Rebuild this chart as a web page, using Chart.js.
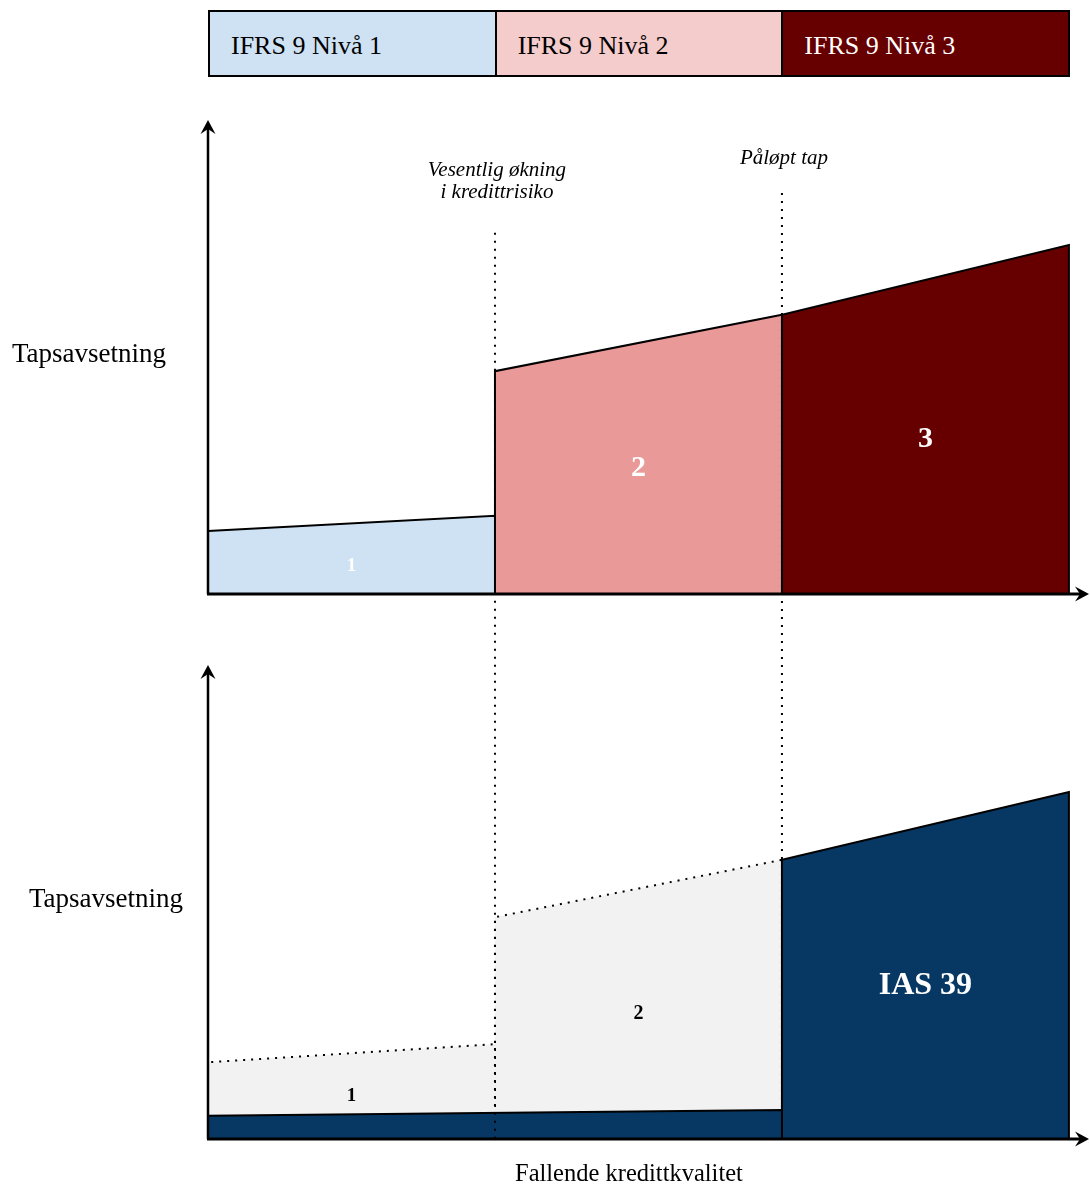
<!DOCTYPE html>
<html lang="no">
<head>
<meta charset="utf-8">
<title>IFRS 9 / IAS 39 tapsavsetning</title>
<script src="https://cdn.jsdelivr.net/npm/chart.js@4.4.1/dist/chart.umd.min.js"></script>
<style>
  body {
    margin: 0;
    background: #ffffff;
    overflow: hidden;
    font-family: "Liberation Serif", "DejaVu Serif", serif;
  }
  #wrap {
    position: relative;
    width: 1090px;
    height: 1184px;
  }
  #chart {
    position: absolute;
    left: 0;
    top: 0;
  }
  .stage-bar {
    position: absolute;
    top: 10px;
    height: 67px;
    display: flex;
    box-sizing: border-box;
    border: 2px solid #000000;
  }
  .stage-box {
    box-sizing: border-box;
    height: 100%;
    padding: 4px 0 0 21px;
    display: flex;
    align-items: center;
    font-size: 26px;
    color: #000000;
    border-right: 2px solid #000000;
  }
  .stage-box:last-child {
    border-right: none;
  }
  .axis-title {
    position: absolute;
    font-size: 27px;
    line-height: 27px;
    white-space: nowrap;
  }
  .note {
    position: absolute;
    font-style: italic;
    font-size: 21px;
    line-height: 22px;
    text-align: center;
    white-space: nowrap;
    transform: translateX(-50%);
  }
</style>
</head>
<body>
<div id="wrap">
  <canvas id="chart" width="1090" height="1184"></canvas>
  <div class="axis-title" style="left: 12px; top: 340px;">Tapsavsetning</div>
  <div class="axis-title" style="left: 29px; top: 885px;">Tapsavsetning</div>
  <div class="axis-title" style="left: 515px; top: 1161px; font-size: 24.5px; line-height: 24px;">Fallende kredittkvalitet</div>
</div>

<script>
// --------------------------------------
// Data
// --------------------------------------

const stageNames = ["IFRS 9 Nivå 1", "IFRS 9 Nivå 2", "IFRS 9 Nivå 3"];
const stageEdges = [0, 1, 2, 3];

// IFRS 9: allowance at the left / right edge of each stage
const ifrsLeft = [13.3, 47.0, 58.9];
const ifrsRight = [16.5, 58.9, 73.6];
const ifrsLabels = ["1", "2", "3"];

// IAS 39: dotted IFRS 9 outline for stage 1-2, solid block for stage 3
const iasLeft = [16.2, 46.8, 58.9];
const iasRight = [20.0, 58.9, 73.2];
const iasLabels = ["1", "2", "IAS 39"];

// incurred loss under IAS 39 for stage 1-2 (start, end)
const incurredBand = [4.9, 6.1];

// transition points between the stages
const thresholdX = [1, 2];
const thresholdTop = [76.2, 84.6];
const thresholdBottom = [0, 58.9];
const thresholdNotes = [["Vesentlig økning", "i kredittrisiko"], ["Påløpt tap"]];


// --------------------------------------
// Colours and label styles
// --------------------------------------

const stageColors = ["#CFE2F3", "#EA9999", "#660000"];
const headerColors = ["#CFE2F3", "#F4CCCC", "#660000"];
const headerText = ["#000000", "#000000", "#ffffff"];
const navy = "#073763";
const grey = "#F2F2F2";

const ifrsLabelStyle = [
  { size: 19, color: "#ffffff", y: 5.9 },
  { size: 30, color: "#ffffff", y: 26.6 },
  { size: 30, color: "#ffffff", y: 32.7 }
];
const iasLabelStyle = [
  { size: 19, color: "#000000", y: 9.1 },
  { size: 20, color: "#000000", y: 26.4 },
  { size: 32, color: "#ffffff", y: 32.3 }
];
const noteTops = [158, 146];


// --------------------------------------
// Datasets
// --------------------------------------

function block(i, left, right) {
  return [
    { x: stageEdges[i], y: 0 },
    { x: stageEdges[i], y: left },
    { x: stageEdges[i + 1], y: right },
    { x: stageEdges[i + 1], y: 0 }
  ];
}

const datasets = [];

// upper panel, IFRS 9
stageNames.forEach((_, i) => {
  datasets.push({
    data: block(i, ifrsLeft[i], ifrsRight[i]),
    yAxisID: "yTop",
    backgroundColor: stageColors[i],
    borderColor: "#000000",
    borderWidth: 2,
    fill: "origin",
    order: 5
  });
});

// lower panel, grey IFRS 9 outline behind the IAS 39 shapes
[0, 1].forEach((i) => {
  datasets.push({
    data: block(i, iasLeft[i], iasRight[i]),
    yAxisID: "yBot",
    backgroundColor: grey,
    borderColor: "#000000",
    borderWidth: 2,
    borderDash: [2, 6],
    fill: "origin",
    order: 4
  });
});

datasets.push({
  data: [
    { x: stageEdges[0], y: 0 },
    { x: stageEdges[0], y: incurredBand[0] },
    { x: stageEdges[2], y: incurredBand[1] },
    { x: stageEdges[2], y: 0 }
  ],
  yAxisID: "yBot",
  backgroundColor: navy,
  borderColor: "#000000",
  borderWidth: 2,
  fill: "origin",
  order: 2
});

datasets.push({
  data: block(2, iasLeft[2], iasRight[2]),
  yAxisID: "yBot",
  backgroundColor: navy,
  borderColor: "#000000",
  borderWidth: 2,
  fill: "origin",
  order: 2
});


// --------------------------------------
// Plugins: thresholds, labels, axes
// --------------------------------------

function arrowHead(ctx, tx, ty, dx, dy) {
  // dx/dy is the pointing direction
  const px = -dy;
  const py = dx;
  ctx.beginPath();
  ctx.moveTo(tx, ty);
  ctx.lineTo(tx - dx * 14 + px * 7.5, ty - dy * 14 + py * 7.5);
  ctx.lineTo(tx - dx * 9, ty - dy * 9);
  ctx.lineTo(tx - dx * 14 - px * 7.5, ty - dy * 14 - py * 7.5);
  ctx.closePath();
  ctx.fill();
}

const thresholdPlugin = {
  id: "thresholds",
  afterDatasetsDraw(chart) {
    const { ctx, scales } = chart;

    ctx.save();
    ctx.strokeStyle = "#000000";
    ctx.lineWidth = 2;
    ctx.setLineDash([2, 6]);

    thresholdX.forEach((value, i) => {
      const px = scales.x.getPixelForValue(value);
      ctx.beginPath();
      ctx.moveTo(px, scales.yTop.getPixelForValue(thresholdTop[i]));
      ctx.lineTo(px, scales.yBot.getPixelForValue(thresholdBottom[i]));
      ctx.stroke();
    });

    ctx.restore();
  }
};

const labelPlugin = {
  id: "stageLabels",
  afterDatasetsDraw(chart) {
    const { ctx, scales } = chart;

    const drawSet = (labels, styles, yScale) => {
      labels.forEach((text, i) => {
        const style = styles[i];
        ctx.font = `bold ${style.size}px "Liberation Serif", serif`;
        ctx.fillStyle = style.color;
        ctx.fillText(
          text,
          scales.x.getPixelForValue(stageEdges[i] + 0.5),
          yScale.getPixelForValue(style.y)
        );
      });
    };

    ctx.save();
    ctx.textAlign = "center";
    ctx.textBaseline = "middle";
    drawSet(ifrsLabels, ifrsLabelStyle, scales.yTop);
    drawSet(iasLabels, iasLabelStyle, scales.yBot);
    ctx.restore();
  }
};

const axesPlugin = {
  id: "panelAxes",
  afterDraw(chart) {
    const { ctx, scales } = chart;
    const x0 = scales.x.getPixelForValue(0);
    const xEnd = scales.x.right;

    ctx.save();
    ctx.strokeStyle = "#000000";
    ctx.fillStyle = "#000000";

    [scales.yTop, scales.yBot].forEach((yScale) => {
      const y0 = yScale.getPixelForValue(0);
      const yEnd = yScale.getPixelForValue(100);

      ctx.lineWidth = 2.5;
      ctx.beginPath();
      ctx.moveTo(x0, y0);
      ctx.lineTo(x0, yEnd + 8);
      ctx.stroke();
      arrowHead(ctx, x0, yEnd, 0, -1);

      ctx.lineWidth = 3;
      ctx.beginPath();
      ctx.moveTo(x0 - 1, y0);
      ctx.lineTo(xEnd - 8, y0);
      ctx.stroke();
      arrowHead(ctx, xEnd, y0, 1, 0);
    });

    ctx.restore();
  }
};


// --------------------------------------
// Chart
// --------------------------------------

// both panels share the x scale; each y scale covers the full height
// so that its own panel sits in the upper or lower part of the canvas
const chart = new Chart(document.getElementById("chart"), {
  type: "line",
  data: { datasets: datasets },
  options: {
    responsive: false,
    animation: false,
    devicePixelRatio: 1,
    layout: {
      padding: { left: 208, right: 1, top: 120, bottom: 45 }
    },
    elements: {
      point: { radius: 0 },
      line: { tension: 0 }
    },
    plugins: {
      legend: { display: false },
      tooltip: { enabled: false }
    },
    scales: {
      x: { type: "linear", min: 0, max: 3.07, display: false },
      yTop: { type: "linear", min: -115, max: 100, display: false },
      yBot: { type: "linear", min: 0, max: 215, display: false }
    }
  },
  plugins: [thresholdPlugin, labelPlugin, axesPlugin]
});


// --------------------------------------
// Stage header and threshold notes
// --------------------------------------

const wrap = document.getElementById("wrap");
const xScale = chart.scales.x;

const bar = document.createElement("div");
bar.className = "stage-bar";
bar.style.left = xScale.getPixelForValue(stageEdges[0]) + "px";
bar.style.width = (xScale.getPixelForValue(stageEdges[3]) - xScale.getPixelForValue(stageEdges[0]) + 1) + "px";

stageNames.forEach((name, i) => {
  const box = document.createElement("div");
  box.className = "stage-box";
  box.style.flex = "1";
  box.style.background = headerColors[i];
  box.style.color = headerText[i];
  box.textContent = name;
  bar.appendChild(box);
});
wrap.appendChild(bar);

thresholdNotes.forEach((lines, i) => {
  const note = document.createElement("div");
  note.className = "note";
  note.style.left = (xScale.getPixelForValue(thresholdX[i]) + 2) + "px";
  note.style.top = noteTops[i] + "px";
  note.innerHTML = lines.join("<br>");
  wrap.appendChild(note);
});
</script>
</body>
</html>
